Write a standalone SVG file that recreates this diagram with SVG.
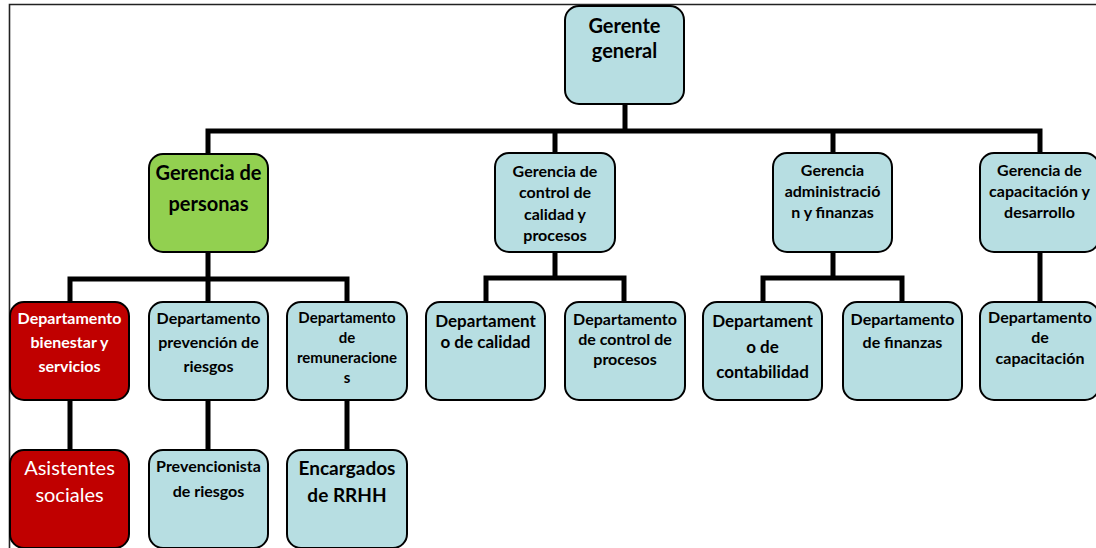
<svg xmlns="http://www.w3.org/2000/svg" width="1096" height="548" viewBox="0 0 1096 548">
<style>
.box{stroke:#000;stroke-width:2}
.blue{fill:#b7dee2}
.green{fill:#92d050}
.red{fill:#c00000}
.t{font-family:Lato,"Liberation Sans",sans-serif;font-weight:bold;text-anchor:middle;fill:#000}
.w{fill:#fff}
.r{font-weight:normal}
.conn{stroke:#000;stroke-width:5;fill:none}
</style>
<rect x="0" y="0" width="1096" height="548" fill="#fff"/>
<path d="M9.5 548 V4.5 H1096" fill="none" stroke="#222" stroke-width="1.6"/>
<g id="connectors">
<path class="conn" d="M625 104 V131 M208 154 V131 H1040 V154 M555 131 V154 M833 131 V154"/>
<path class="conn" d="M208 252 V279 M70 302 V279 H347 V302 M208 279 V302"/>
<path class="conn" d="M70 400 V450 M208 400 V450 M347 400 V450"/>
<path class="conn" d="M555 252 V278 M486 302 V278 H624 V302"/>
<path class="conn" d="M833 252 V278 M763 302 V278 H902 V302"/>
<path class="conn" d="M1040 252 V302"/>
</g>
<g id="gerente-general">
<rect class="box blue" x="565" y="6" width="119" height="98" rx="14"/>
<text class="t" font-size="20" x="624.5" y="33">Gerente</text>
<text class="t" font-size="20" x="624.5" y="58">general</text>
</g>
<g id="gerencia-personas">
<rect class="box green" x="149" y="154" width="119" height="98" rx="14"/>
<text class="t" font-size="20" x="208.5" y="180">Gerencia de</text>
<text class="t" font-size="20" x="208.5" y="211">personas</text>
</g>
<g id="gerencia-control">
<rect class="box blue" x="495" y="153" width="120" height="99" rx="14"/>
<text class="t" font-size="16" x="555" y="177">Gerencia de</text>
<text class="t" font-size="16" x="555" y="198">control de</text>
<text class="t" font-size="16" x="555" y="220">calidad y</text>
<text class="t" font-size="16" x="555" y="241">procesos</text>
</g>
<g id="gerencia-admin">
<rect class="box blue" x="773" y="153" width="119" height="99" rx="14"/>
<text class="t" font-size="16" x="832.5" y="176">Gerencia</text>
<text class="t" font-size="16" x="832.5" y="197">administració</text>
<text class="t" font-size="16" x="832.5" y="218">n y finanzas</text>
</g>
<g id="gerencia-capacitacion">
<rect class="box blue" x="980" y="153" width="119" height="99" rx="14"/>
<text class="t" font-size="16" x="1039.5" y="176">Gerencia de</text>
<text class="t" font-size="16" x="1039.5" y="197">capacitación y</text>
<text class="t" font-size="16" x="1039.5" y="218">desarrollo</text>
</g>
<g id="depto-bienestar">
<rect class="box red" x="10" y="302" width="119" height="98" rx="14"/>
<text class="t w" font-size="16" x="69.5" y="324">Departamento</text>
<text class="t w" font-size="16" x="69.5" y="348">bienestar y</text>
<text class="t w" font-size="16" x="69.5" y="372">servicios</text>
</g>
<g id="depto-prevencion">
<rect class="box blue" x="149" y="302" width="119" height="98" rx="14"/>
<text class="t" font-size="16" x="208.5" y="324">Departamento</text>
<text class="t" font-size="16" x="208.5" y="348">prevención de</text>
<text class="t" font-size="16" x="208.5" y="372">riesgos</text>
</g>
<g id="depto-remuneraciones">
<rect class="box blue" x="287" y="302" width="120" height="98" rx="14"/>
<text class="t" font-size="15" x="347" y="323">Departamento</text>
<text class="t" font-size="15" x="347" y="343">de</text>
<text class="t" font-size="15" x="347" y="363">remuneracione</text>
<text class="t" font-size="15" x="347" y="383">s</text>
</g>
<g id="depto-calidad">
<rect class="box blue" x="426" y="302" width="119" height="98" rx="14"/>
<text class="t" font-size="17" x="485.5" y="327">Departament</text>
<text class="t" font-size="17" x="485.5" y="348">o de calidad</text>
</g>
<g id="depto-control-procesos">
<rect class="box blue" x="565" y="302" width="120" height="98" rx="14"/>
<text class="t" font-size="16" x="625" y="325">Departamento</text>
<text class="t" font-size="16" x="625" y="345">de control de</text>
<text class="t" font-size="16" x="625" y="365">procesos</text>
</g>
<g id="depto-contabilidad">
<rect class="box blue" x="703" y="302" width="119" height="98" rx="14"/>
<text class="t" font-size="17" x="762.5" y="327">Departament</text>
<text class="t" font-size="17" x="762.5" y="353">o de</text>
<text class="t" font-size="17" x="762.5" y="378">contabilidad</text>
</g>
<g id="depto-finanzas">
<rect class="box blue" x="843" y="302" width="119" height="98" rx="14"/>
<text class="t" font-size="16" x="902.5" y="325">Departamento</text>
<text class="t" font-size="16" x="902.5" y="348">de finanzas</text>
</g>
<g id="depto-capacitacion">
<rect class="box blue" x="980" y="302" width="119" height="98" rx="14"/>
<text class="t" font-size="16" x="1040" y="323">Departamento</text>
<text class="t" font-size="16" x="1040" y="343">de</text>
<text class="t" font-size="16" x="1040" y="364">capacitación</text>
</g>
<g id="asistentes-sociales">
<rect class="box red" x="10" y="450" width="119" height="98" rx="14"/>
<text class="t w r" font-size="20" x="69.5" y="475">Asistentes</text>
<text class="t w r" font-size="20" x="69.5" y="502">sociales</text>
</g>
<g id="prevencionista">
<rect class="box blue" x="149" y="450" width="119" height="98" rx="14"/>
<text class="t" font-size="16" x="208.5" y="472">Prevencionista</text>
<text class="t" font-size="16" x="208.5" y="497">de riesgos</text>
</g>
<g id="encargados-rrhh">
<rect class="box blue" x="287" y="450" width="120" height="98" rx="14"/>
<text class="t" font-size="19" x="347" y="475">Encargados</text>
<text class="t" font-size="19" x="347" y="502">de RRHH</text>
</g>
</svg>
